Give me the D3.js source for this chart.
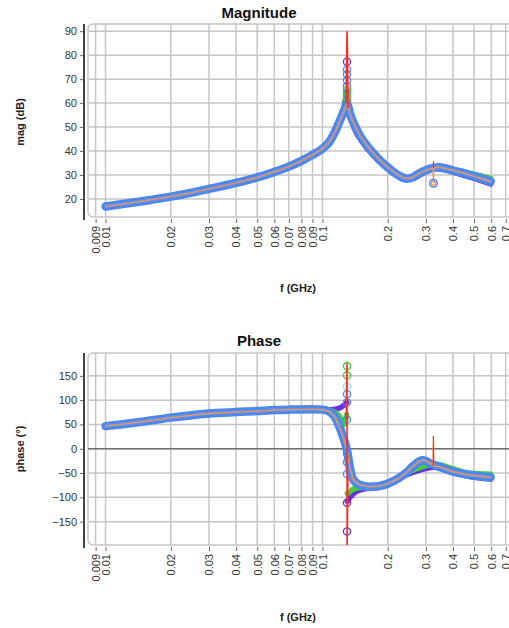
<!DOCTYPE html>
<html>
<head>
<meta charset="utf-8">
<script src="https://cdn.jsdelivr.net/npm/d3@7"></script>
<style>
  body { margin: 0; background: #fff; }
  svg { display: block; font-family: "Liberation Sans", Arial, sans-serif; }
</style>
</head>
<body>
<svg id="chart" width="509" height="628"></svg>
<script>
// ---- data (frequency in GHz) ----
const freq = [0.01, 0.012, 0.015, 0.02, 0.025, 0.03, 0.04, 0.05, 0.06, 0.07, 0.08, 0.09,
  0.1, 0.108, 0.115, 0.121, 0.126, 0.13, 0.134, 0.138, 0.148, 0.164, 0.182, 0.202,
  0.224, 0.244, 0.26, 0.28, 0.29, 0.30, 0.316, 0.344, 0.37, 0.40, 0.44, 0.476, 0.53, 0.597];
const magMain = [16.9, 17.9, 19.2, 21.0, 22.7, 24.2, 26.7, 29.0, 31.3, 33.5, 35.9, 38.4,
  41.0, 44.0, 48.5, 53.2, 57.0, 59.5, 55.5, 52.5, 46.8, 41.2, 36.6, 32.9,
  29.9, 28.5, 29.0, 30.7, 31.4, 32.0, 32.7, 33.3, 32.8, 31.9, 31.0, 30.1, 28.8, 27.3];
const phaseMain = [46.6, 50.5, 56.0, 64.0, 69.0, 72.5, 75.5, 77.5, 79.5, 80.5, 81.0, 81.2,
  80.5, 76.0, 63.0, 40.0, 18.0, -5.0, -40.0, -62.0, -74.0, -78.0, -77.0, -71.0,
  -61.0, -49.0, -37.0, -26.0, -23.5, -25.0, -31.0, -37.0, -42.0, -47.0, -51.0, -54.0, -56.5, -58.8];

// narrow glitch near 0.325 GHz seen on the orange trace
const glitchFreq = [0.3238, 0.325, 0.3262];
const glitchMag = [32.9, 26.6, 33.1];
const glitchPhase = [-33.5, 25.0, -35.5];

// sharper-Q traces around the resonance (null = break at the resonance)
const sweepFreq = [0.09, 0.11, 0.12, 0.126, 0.1293, 0.1298, 0.1303, 0.134, 0.14, 0.155, 0.18, 0.25, 0.33, 0.45, 0.597];
const magGreen = [38.5, 46.0, 52.0, 58.0, 63.5, null, 61.0, 56.5, 50.5, 43.6, 37.0, 28.7, 33.7, 31.3, 28.6];
const magPurple = [38.3, 45.7, 52.6, 58.8, 64.5, null, 60.5, 55.5, 49.8, 43.0, 36.4, 28.3, 32.6, 29.9, 26.3];
const phaseGreen = [81.8, 78.0, 66.0, 50.0, 70.0, null, -92.0, -88.0, -82.0, -79.0, -77.0, -47.5, -32.0, -48.0, -52.5];
const phasePurple = [81.5, 80.5, 84.0, 90.0, 95.0, null, -108.0, -100.0, -91.0, -83.0, -79.5, -51.5, -38.0, -54.5, -62.5];

// red trace: spike at the resonance and at the glitch
const redMagFreq = [0.1285, 0.1296, 0.1299, 0.1303, 0.1312];
const redMag = [60.0, 86.0, 90.0, 84.0, 58.0];
const redPhaseFreq = [0.1288, 0.1297, 0.12985, 0.1300, 0.1310];
const redPhase = [60.0, 176.0, 60.0, -205.0, -60.0];
const redGlitchFreq = [0.3242, 0.325, 0.3258];
const redGlitchMag = [33.0, 35.8, 33.0];
const redGlitchPhase = [-34.0, 26.0, -35.0];

// scattered markers stacked at the resonance frequency
const resonanceF = 0.1298;
const magPeakBlue = [61.0, 64.0, 67.0, 69.5, 72.0, 74.0];
const magPeakGreen = [62.5, 65.5];
const magPeakPurple = [77.3];
const phasePeakGreen = [170.0, 151.0];
const phasePeakCyan = [128.0];
const phasePeakBlue = [112.0, 95.0, 60.0, -10.0, -28.0, -52.0];
const phasePeakPurple = [-111.0, -170.0];

// axis ticks
const xTicks = [0.009, 0.01, 0.02, 0.03, 0.04, 0.05, 0.06, 0.07, 0.08, 0.09, 0.1, 0.2, 0.3, 0.4, 0.5, 0.6, 0.7];
const magTicks = [20, 30, 40, 50, 60, 70, 80, 90];
const phaseTicks = [-150, -100, -50, 0, 50, 100, 150];

// ---- drawing ----
const svg = d3.select("#chart");
const colors = {
  band: "#4d86ee", orange: "#f5914a", green: "#3fcf3f", purple: "#6b2fe0",
  red: "#ff2b1c", cyan: "#8fe3ea", grid: "#c6c6c6", axis: "#444"
};
const fmt = d => String(+d.toFixed(3));
const x = d3.scaleLog().domain([0.0083, 0.85]).range([88, 524]);

function zip(fs, vs) { return fs.map((f, i) => [f, vs[i]]); }
function merged(fsA, vsA, fsB, vsB) {
  return zip(fsA, vsA).concat(zip(fsB, vsB)).sort((a, b) => a[0] - b[0]);
}

function panel(cfg, id) {
  const y = d3.scaleLinear().domain(cfg.yDomain).range([cfg.bottom, cfg.top]);
  const g = svg.append("g");
  const line = d3.line().defined(d => d[1] != null)
    .x(d => x(d[0])).y(d => y(d[1])).curve(d3.curveMonotoneX);
  const lineLin = d3.line().x(d => x(d[0])).y(d => y(d[1]));

  g.append("text").attr("x", 259).attr("y", cfg.titleY).attr("text-anchor", "middle")
    .attr("font-size", 15).attr("font-weight", "bold").attr("fill", "#111").text(cfg.title);

  // frame
  g.append("rect").attr("x", 88).attr("y", cfg.top).attr("width", 460).attr("height", cfg.bottom - cfg.top)
    .attr("rx", 5).attr("fill", "#fff").attr("stroke", colors.grid).attr("stroke-width", 1.5);

  // grid
  g.append("g").selectAll("line").data(cfg.yTicks).join("line")
    .attr("x1", 88).attr("x2", 548).attr("y1", d => y(d)).attr("y2", d => y(d))
    .attr("stroke", colors.grid).attr("stroke-width", 1.5);
  g.append("g").selectAll("line").data(xTicks).join("line")
    .attr("x1", d => x(d)).attr("x2", d => x(d)).attr("y1", cfg.top).attr("y2", cfg.bottom)
    .attr("stroke", colors.grid).attr("stroke-width", 1.5);
  if (cfg.zeroLine) {
    g.append("line").attr("x1", 88).attr("x2", 548).attr("y1", y(0)).attr("y2", y(0))
      .attr("stroke", "#707070").attr("stroke-width", 1.5);
  }

  // y axis
  const ya = g.append("g").attr("transform", "translate(84,0)")
    .call(d3.axisLeft(y).tickValues(cfg.yTicks).tickSize(4).tickPadding(3));
  ya.select(".domain").remove();
  ya.selectAll(".tick line").attr("stroke", "#666");
  ya.selectAll(".tick text").attr("font-size", 11).attr("fill", "#333")
    .attr("font-family", "\"Liberation Sans\", Arial, sans-serif");
  g.append("line").attr("x1", 84).attr("x2", 84).attr("y1", cfg.top).attr("y2", cfg.bottom + 3)
    .attr("stroke", colors.axis).attr("stroke-width", 2);

  // x axis
  const xa = g.append("g").attr("transform", `translate(0,${cfg.bottom + 2})`)
    .call(d3.axisBottom(x).tickValues(xTicks).tickFormat(fmt).tickSize(4));
  xa.select(".domain").remove();
  xa.selectAll(".tick line").attr("stroke", "#666");
  xa.selectAll(".tick text").attr("font-size", 11).attr("fill", "#333")
    .attr("font-family", "\"Liberation Sans\", Arial, sans-serif")
    .attr("transform", "rotate(-90)").attr("text-anchor", "end")
    .attr("x", -7).attr("y", 0).attr("dy", "0.35em");

  g.append("text").attr("x", 298).attr("y", cfg.xTitleY).attr("text-anchor", "middle")
    .attr("font-size", 11).attr("font-weight", "bold").attr("fill", "#222").text("f (GHz)");
  g.append("text").attr("transform", `translate(24,${cfg.yLabelY}) rotate(-90)`)
    .attr("text-anchor", "middle").attr("font-size", 11).attr("font-weight", "bold")
    .attr("fill", "#222").text(cfg.yLabel);

  // series, clipped to the frame
  svg.append("clipPath").attr("id", id).append("rect")
    .attr("x", 88).attr("y", cfg.top).attr("width", 460).attr("height", cfg.bottom - cfg.top);
  const s = g.append("g").attr("clip-path", `url(#${id})`);

  s.append("path").datum(zip(sweepFreq, cfg.purple)).attr("d", line)
    .attr("fill", "none").attr("stroke", colors.purple).attr("stroke-width", 5.5).attr("stroke-linecap", "round");
  s.append("path").datum(zip(sweepFreq, cfg.green)).attr("d", line)
    .attr("fill", "none").attr("stroke", colors.green).attr("stroke-width", 5.5).attr("stroke-linecap", "round");

  s.append("path").datum(zip(freq, cfg.main)).attr("d", line)
    .attr("fill", "none").attr("stroke", colors.band).attr("stroke-width", 8.5).attr("stroke-linecap", "round");
  s.append("path").datum(zip(freq, cfg.main)).attr("d", line)
    .attr("fill", "none").attr("stroke", "#5e95f2").attr("stroke-width", 3.5).attr("stroke-linecap", "round");

  cfg.rings.forEach(([vals, col]) => s.append("g").selectAll("circle").data(vals).join("circle")
    .attr("cx", x(resonanceF)).attr("cy", d => y(d)).attr("r", 3.6)
    .attr("fill", "none").attr("stroke", col).attr("stroke-width", 1.3));

  s.append("path").datum(merged(freq, cfg.main, glitchFreq, cfg.glitch)).attr("d", lineLin)
    .attr("fill", "none").attr("stroke", colors.orange).attr("stroke-width", 1.3);

  s.append("path").datum(zip(cfg.redF, cfg.red)).attr("d", lineLin)
    .attr("fill", "none").attr("stroke", colors.red).attr("stroke-width", 1.6);
  s.append("path").datum(zip(redGlitchFreq, cfg.redGlitch)).attr("d", lineLin)
    .attr("fill", "none").attr("stroke", colors.red).attr("stroke-width", 1);

  if (cfg.glitchRing) {
    s.append("circle").attr("cx", x(glitchFreq[1])).attr("cy", y(cfg.glitch[1])).attr("r", 3.8)
      .attr("fill", "none").attr("stroke", colors.band).attr("stroke-width", 1.5);
    s.append("circle").attr("cx", x(glitchFreq[1])).attr("cy", y(cfg.glitch[1])).attr("r", 2)
      .attr("fill", "none").attr("stroke", colors.orange).attr("stroke-width", 1.2);
  }
}

panel({
  title: "Magnitude", titleY: 18, top: 24, bottom: 217, yDomain: [12.5, 93], yTicks: magTicks,
  yLabel: "mag (dB)", yLabelY: 122, xTitleY: 292, zeroLine: false,
  main: magMain, glitch: glitchMag, green: magGreen, purple: magPurple,
  redF: redMagFreq, red: redMag, redGlitch: redGlitchMag, glitchRing: true,
  rings: [[magPeakBlue, colors.band], [magPeakGreen, colors.green], [magPeakPurple, colors.purple]]
}, "clipMag");

panel({
  title: "Phase", titleY: 346, top: 353, bottom: 545, yDomain: [-198, 197], yTicks: phaseTicks,
  yLabel: "phase (°)", yLabelY: 449, xTitleY: 621, zeroLine: true,
  main: phaseMain, glitch: glitchPhase, green: phaseGreen, purple: phasePurple,
  redF: redPhaseFreq, red: redPhase, redGlitch: redGlitchPhase, glitchRing: false,
  rings: [[phasePeakGreen, colors.green], [phasePeakCyan, colors.cyan],
          [phasePeakBlue, colors.band], [phasePeakPurple, colors.purple]]
}, "clipPhase");
</script>
</body>
</html>
